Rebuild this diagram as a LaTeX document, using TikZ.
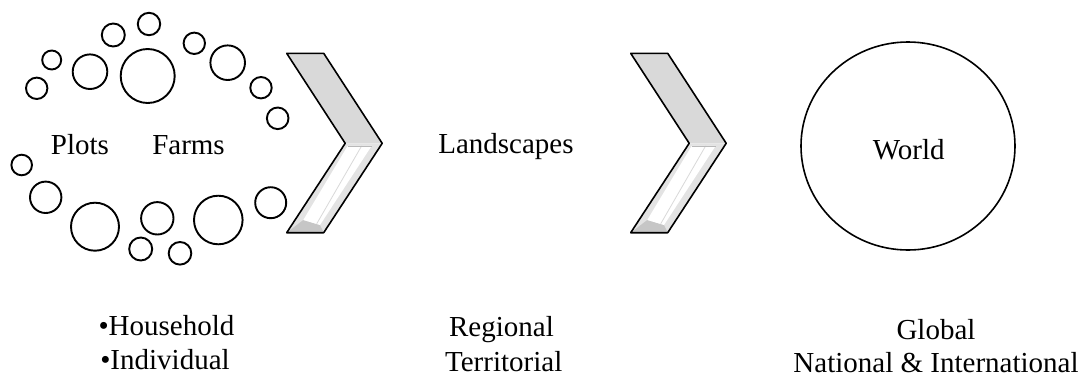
\documentclass[tikz,border=0pt]{standalone}
\usepackage{fontspec}
\setmainfont{Liberation Serif}
\begin{document}
\begin{tikzpicture}[x=1pt,y=-1pt,
  label/.style={anchor=base,inner sep=0pt,text depth=0pt,font=\fontsize{29}{35}\selectfont},
  ring/.style={draw=black,line width=1.9pt},
  chevron/.pic={
    % upper arm
    \fill[gray!30] (0,0) -- (37,0) -- (95.5,90) -- (58.5,90) -- cycle;
    % lower arm: frame, bevel and light face
    \fill[gray!22] (58.5,90) -- (95.5,90) -- (37,179.4) -- (0,179.4) -- cycle;
    \fill[gray!45] (0,179.4) -- (16.6,166.7) -- (33.3,171.7) -- (37,179.4) -- cycle;
    \fill[white] (61,92.5) -- (85,92.5) -- (33.3,171.7) -- (16.6,166.7) -- cycle;
    \draw[gray!30,line width=0.8pt] (75,92.5) -- (30,170.5);
    \draw[gray!55,line width=0.6pt] (61,92.5) -- (85,92.5);
    % outline
    \draw[line width=1.6pt,line join=round]
      (0,0) -- (37,0) -- (95.5,90) -- (37,179.4) -- (0,179.4) -- (58.5,90) -- cycle;
  }]
\useasboundingbox (0,0) rectangle (1085,378);

% ring of small circles around the plot/farm labels
\foreach \cx/\cy/\r in {
  36.7/88.3/10.7, 51.7/60/9.5, 90/71.7/17.3, 147.7/76/27, 113.3/35/11.5,
  149/24/11.2, 194.3/43.3/10.7, 227.7/62.7/17.3, 261/87.7/10.7, 277.7/118.3/10.8,
  21.7/165/10.3, 45.7/197.3/15.7, 95/226.7/24, 157.3/218.3/16.2, 140.7/249/11.5,
  180/253.3/11.3, 218.3/220/24.3, 270.7/202.7/15.5}
  \draw[ring] (\cx,\cy) circle[radius=\r];

\node[label] (plots) at (80,154) {Plots};
\node[label] (farms) at (188.5,154) {Farms};

\pic at (286.7,53.3) {chevron};
\node[label] (landscapes) at (506,153.3) {Landscapes};
\pic at (630.7,53.3) {chevron};

\draw[draw=black,line width=1.6pt] (908,146) ellipse[x radius=107,y radius=104];
\node[label] (world) at (908.7,159.5) {World};

\node[label] (household) at (166.5,335) {•Household};
\node[label] (individual) at (165,369) {•Individual};
\node[label] (regional) at (501.5,336.7) {Regional};
\node[label] (territorial) at (503.7,371.7) {Territorial};
\node[label] (global) at (936,339) {Global};
\node[label] (national) at (936,372) {National \& International};
\end{tikzpicture}
\end{document}
